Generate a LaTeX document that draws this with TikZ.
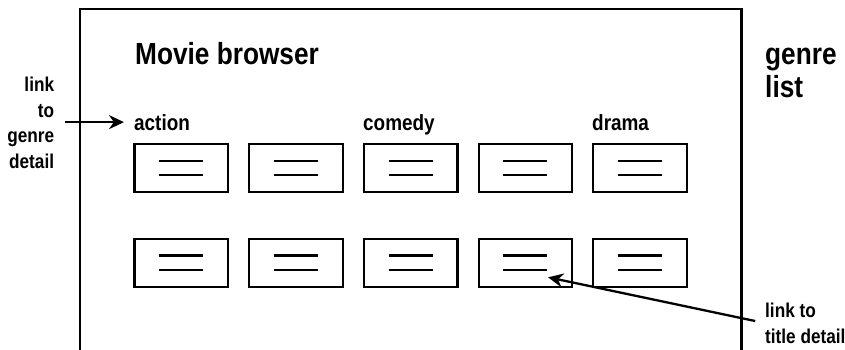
\documentclass[tikz,border=0pt]{standalone}
\usepackage{fontspec}
\setmainfont{Liberation Sans}[FakeStretch=0.86]
\usetikzlibrary{arrows.meta, positioning, calc}

\begin{document}
\begin{tikzpicture}[
    x=1pt, y=-1pt,
    thumb/.style={rectangle, draw=black, line width=2.2pt, minimum width=93.5pt, minimum height=48pt, inner sep=0pt, outer sep=0pt,
        path picture={
            \draw[line width=2.2pt] ($(path picture bounding box.center)+(-22,-7.3)$) -- ++(44,0);
            \draw[line width=2.2pt] ($(path picture bounding box.center)+(-22,7.3)$) -- ++(44,0);
        }},
    genre/.style={anchor=base west, inner sep=0pt, font=\bfseries\fontsize{22}{26}\selectfont},
    note/.style={inner sep=0pt, font=\bfseries\fontsize{20}{25.5}\selectfont},
    big/.style={anchor=base west, inner sep=0pt, font=\bfseries\fontsize{30.5}{33}\selectfont},
    arrow/.style={-{Stealth[length=15pt, width=14pt]}, line width=2.3pt}
]
\useasboundingbox (0,0) rectangle (845,350);
% browser window, open at the bottom
\draw[line width=2.2pt] (80,350) |- (741.5,9) -- (741.5,350);
\node[big] (title) at (135,64.5) {Movie browser};
\node[big, align=left] (genrelist) at (765,98) {genre\\list};
\node[genre] (action) at (134,130) {action};
\node[genre] (comedy) at (363,130) {comedy};
\node[genre] (drama) at (592,130) {drama};
\node[thumb] (b11) at (181.3,168) {};
\node[thumb, right=21.2pt of b11] (b12) {};
\node[thumb, right=21.2pt of b12] (b13) {};
\node[thumb, right=21.2pt of b13] (b14) {};
\node[thumb, right=21.2pt of b14] (b15) {};
\node[thumb, below=46.7pt of b11] (b21) {};
\node[thumb, right=21.2pt of b21] (b22) {};
\node[thumb, right=21.2pt of b22] (b23) {};
\node[thumb, right=21.2pt of b23] (b24) {};
\node[thumb, right=21.2pt of b24] (b25) {};
\node[note, anchor=base east, align=right] (linkgenre) at (54.3,168.3) {link\\to\\genre\\detail};
\node[note, anchor=base west, align=left] (linktitle) at (765,343) {link to\\title detail};
\coordinate (titlehit) at ($(b24.center)+(22.7,14.6)$);
\draw[arrow, shorten <=11pt, shorten >=10pt] (linkgenre.east |- action.west) -- (action.west);
\draw[arrow, shorten <=10pt] (linktitle.west) -- (titlehit);
\end{tikzpicture}
\end{document}
